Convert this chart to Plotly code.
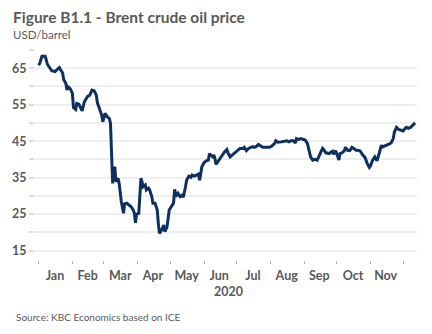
import plotly.graph_objects as go

dates = [
    "2020-01-01", "2020-01-02", "2020-01-04", "2020-01-07", "2020-01-09", "2020-01-11",
    "2020-01-13", "2020-01-16", "2020-01-18", "2020-01-20", "2020-01-23", "2020-01-24",
    "2020-01-26", "2020-01-27", "2020-01-28", "2020-01-30", "2020-02-01", "2020-02-02",
    "2020-02-04", "2020-02-05", "2020-02-07", "2020-02-08", "2020-02-10", "2020-02-12",
    "2020-02-13", "2020-02-15", "2020-02-17", "2020-02-19", "2020-02-21", "2020-02-23",
    "2020-02-24", "2020-02-26", "2020-02-28", "2020-02-29", "2020-03-02", "2020-03-04",
    "2020-03-06", "2020-03-07", "2020-03-08", "2020-03-09", "2020-03-10", "2020-03-11",
    "2020-03-12", "2020-03-14", "2020-03-15", "2020-03-16", "2020-03-17", "2020-03-19",
    "2020-03-20", "2020-03-22", "2020-03-24", "2020-03-26", "2020-03-28", "2020-03-29",
    "2020-03-30", "2020-03-31", "2020-04-02", "2020-04-03", "2020-04-04", "2020-04-05",
    "2020-04-06", "2020-04-08", "2020-04-09", "2020-04-11", "2020-04-12", "2020-04-14",
    "2020-04-15", "2020-04-17", "2020-04-19", "2020-04-20", "2020-04-21", "2020-04-23",
    "2020-04-25", "2020-04-26", "2020-04-28", "2020-04-30", "2020-05-02", "2020-05-04",
    "2020-05-05", "2020-05-06", "2020-05-08", "2020-05-10", "2020-05-12", "2020-05-13",
    "2020-05-15", "2020-05-16", "2020-05-18", "2020-05-20", "2020-05-21", "2020-05-23",
    "2020-05-25", "2020-05-27", "2020-05-28", "2020-05-29", "2020-05-30", "2020-06-01",
    "2020-06-03", "2020-06-05", "2020-06-06", "2020-06-07", "2020-06-09", "2020-06-10",
    "2020-06-11", "2020-06-12", "2020-06-14", "2020-06-16", "2020-06-17", "2020-06-18",
    "2020-06-20", "2020-06-22", "2020-06-23", "2020-06-25", "2020-06-27", "2020-06-29",
    "2020-07-02", "2020-07-04", "2020-07-07", "2020-07-08", "2020-07-10", "2020-07-12",
    "2020-07-14", "2020-07-16", "2020-07-17", "2020-07-19", "2020-07-21", "2020-07-23",
    "2020-07-25", "2020-07-27", "2020-07-29", "2020-07-31", "2020-08-02", "2020-08-05",
    "2020-08-06", "2020-08-08", "2020-08-11", "2020-08-13", "2020-08-16", "2020-08-18",
    "2020-08-20", "2020-08-22", "2020-08-24", "2020-08-25", "2020-08-27", "2020-08-29",
    "2020-08-31", "2020-09-02", "2020-09-04", "2020-09-05", "2020-09-07", "2020-09-09",
    "2020-09-11", "2020-09-13", "2020-09-15", "2020-09-16", "2020-09-18", "2020-09-19",
    "2020-09-21", "2020-09-24", "2020-09-25", "2020-09-27", "2020-09-28", "2020-09-30",
    "2020-10-02", "2020-10-03", "2020-10-04", "2020-10-06", "2020-10-08", "2020-10-09",
    "2020-10-11", "2020-10-13", "2020-10-15", "2020-10-17", "2020-10-19", "2020-10-22",
    "2020-10-23", "2020-10-25", "2020-10-27", "2020-10-29", "2020-10-31", "2020-11-01",
    "2020-11-03", "2020-11-05", "2020-11-06", "2020-11-07", "2020-11-09", "2020-11-11",
    "2020-11-12", "2020-11-14", "2020-11-16", "2020-11-18", "2020-11-20", "2020-11-22",
    "2020-11-23", "2020-11-25", "2020-11-27", "2020-11-29", "2020-12-01", "2020-12-03",
    "2020-12-04", "2020-12-06", "2020-12-08", "2020-12-10", "2020-12-12",
]

brent = [
    65.8, 66.3, 68.3, 68.3, 66.1, 65.2,
    64.3, 64.1, 64.6, 65.2, 63.7, 61.9,
    60.8, 59.0, 59.9, 59.4, 58.1, 54.2,
    53.7, 55.3, 55.1, 54.6, 53.3, 55.8,
    56.4, 57.3, 57.6, 59.0, 58.8, 57.6,
    55.5, 54.0, 52.1, 50.3, 52.6, 51.7,
    51.2, 49.9, 41.0, 33.4, 37.1, 38.0,
    33.9, 34.8, 33.4, 29.8, 28.4, 25.2,
    27.8, 28.0, 27.6, 27.0, 26.1, 25.2,
    22.6, 25.0, 25.2, 31.6, 34.8, 33.9,
    32.5, 33.0, 31.6, 32.1, 31.6, 29.8,
    28.0, 28.0, 26.1, 22.5, 19.7, 20.6,
    22.0, 20.2, 21.5, 26.1, 27.0, 28.0,
    31.8, 29.8, 30.7, 29.8, 30.2, 29.6,
    32.5, 34.3, 35.4, 35.1, 35.7, 35.4,
    35.7, 36.0, 34.3, 36.2, 38.0, 39.1,
    39.6, 39.8, 41.6, 41.2, 40.7, 41.2,
    40.3, 38.6, 39.5, 40.4, 40.9, 41.4,
    42.1, 42.7, 41.8, 40.7, 41.2, 41.8,
    42.5, 43.0, 43.0, 43.3, 42.4, 43.0,
    43.3, 43.5, 43.3, 43.5, 44.1, 43.6,
    43.3, 43.3, 43.3, 43.3, 43.6, 44.4,
    45.1, 44.7, 44.8, 45.0, 45.1, 44.8,
    45.1, 45.1, 44.5, 45.7, 45.5, 45.7,
    45.5, 45.3, 44.4, 43.0, 40.7, 39.8,
    40.0, 39.8, 41.2, 41.6, 43.0, 42.7,
    41.8, 41.6, 41.8, 42.2, 41.4, 42.4,
    40.7, 39.8, 41.6, 41.8, 42.4, 43.3,
    42.5, 42.4, 43.3, 43.0, 42.5, 42.4,
    42.1, 41.2, 40.5, 38.9, 37.8, 38.2,
    39.8, 40.7, 40.0, 39.6, 41.6, 43.9,
    43.4, 43.6, 43.9, 44.2, 44.5, 45.7,
    47.5, 48.8, 48.2, 48.0, 47.8, 48.5,
    48.8, 48.5, 48.8, 49.4, 50.0,
]

month_starts = ["2020-01-01", "2020-02-01", "2020-03-01", "2020-04-01", "2020-05-01",
                "2020-06-01", "2020-07-01", "2020-08-01", "2020-09-01", "2020-10-01",
                "2020-11-01", "2020-12-01"]
month_mids = ["2020-01-16", "2020-02-15", "2020-03-16", "2020-04-15", "2020-05-16",
              "2020-06-15", "2020-07-16", "2020-08-16", "2020-09-15", "2020-10-16",
              "2020-11-15"]
month_labels = ["Jan", "Feb", "Mar", "Apr", "May", "Jun", "Jul", "Aug", "Sep", "Oct", "Nov"]
y_gridvals = [15, 20, 25, 30, 35, 40, 45, 50, 55, 60, 65, 70]
y_labels = ["15", "", "25", "", "35", "", "45", "", "55", "", "65", ""]

FONT = "Lato"
GREY = "#595959"

fig = go.Figure()
fig.add_trace(go.Scatter(
    x=dates, y=brent, mode="lines",
    line=dict(color="#0d3060", width=3),
    hoverinfo="skip", showlegend=False,
))

fig.update_layout(
    width=432, height=334,
    margin=dict(l=32, r=15, t=50, b=74),
    paper_bgcolor="white", plot_bgcolor="white",
    font=dict(family=FONT, color=GREY),
    xaxis=dict(
        range=["2019-12-28 15:00", "2020-12-13 19:00"],
        tickmode="array", tickvals=month_mids, ticktext=month_labels,
        ticks="", showgrid=False, zeroline=False, showline=False,
        tickfont=dict(family=FONT, size=12.5, color=GREY, weight="bold"),
        ticklabelstandoff=6,
        minor=dict(tickmode="array", tickvals=month_starts, ticks="outside",
                   ticklen=3, tickwidth=1, tickcolor="#b0b0b0", showgrid=False),
    ),
    yaxis=dict(
        range=[12.4, 70],
        tickmode="array", tickvals=y_gridvals, ticktext=y_labels,
        ticks="outside", ticklen=5, tickwidth=1.5, tickcolor="#dcdcdc",
        showgrid=True, gridcolor="#eeeeee", gridwidth=1.5,
        zeroline=False, showline=False,
        tickfont=dict(family=FONT, size=12.5, color=GREY, weight="bold"),
    ),
    annotations=[
        dict(text="<b>Figure B1.1 - Brent crude oil price</b>", xref="paper", yref="paper",
             x=(8 - 32) / 385, y=(260 - 17) / 210, xanchor="left", yanchor="middle",
             showarrow=False, font=dict(family=FONT, size=15.5, color=GREY)),
        dict(text="USD/barrel", xref="paper", yref="paper",
             x=(8 - 32) / 385, y=(260 - 34.5) / 210, xanchor="left", yanchor="middle",
             showarrow=False, font=dict(family=FONT, size=11.5, color=GREY)),
        dict(text="<b>2020</b>", xref="paper", yref="paper",
             x=(227 - 32) / 385, y=(260 - 291) / 210, xanchor="center", yanchor="middle",
             showarrow=False, font=dict(family=FONT, size=12.5, color=GREY)),
        dict(text="Source: KBC Economics based on ICE", xref="paper", yref="paper",
             x=(11 - 32) / 385, y=(260 - 316.5) / 210, xanchor="left", yanchor="middle",
             showarrow=False, font=dict(family=FONT, size=10, color=GREY)),
    ],
)

fig.write_html("out.html")
